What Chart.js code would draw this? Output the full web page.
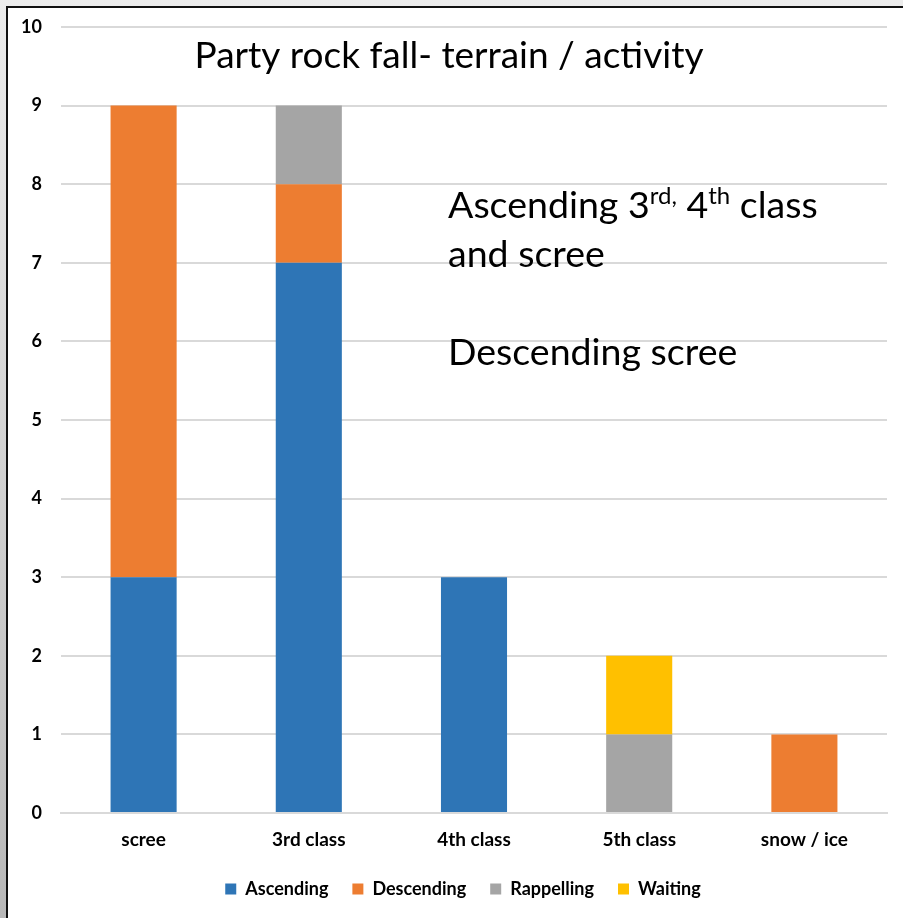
<!DOCTYPE html>
<html>
<head>
<meta charset="utf-8">
<script src="https://cdn.jsdelivr.net/npm/chart.js@4"></script>
<style>
    html, body { margin: 0; padding: 0; }
    body { width: 903px; height: 918px; overflow: hidden; background: linear-gradient(#ececec, #b8b8b8); }
    #frame {
        position: absolute; left: 6px; top: 6px;
        width: 897px; height: 912px; overflow: hidden;
        border-left: 2px solid #111; border-top: 2px solid #111;
        background: #fff;
    }
    #chart { display: block; }
</style>
</head>
<body>
<div id="frame"><canvas id="chart" width="925" height="910"></canvas></div>
<script>
    // data
    var categories = ['scree', '3rd class', '4th class', '5th class', 'snow / ice'];
    var ascending = [3, 7, 3, 0, 0];
    var descending = [6, 1, 0, 0, 1];
    var rappelling = [0, 1, 0, 1, 0];
    var waiting = [0, 0, 0, 1, 0];
    var seriesNames = ['Ascending', 'Descending', 'Rappelling', 'Waiting'];
    var seriesColors = ['#2E75B6', '#ED7D31', '#A5A5A5', '#FFC000'];
    var yTicks = [0, 1, 2, 3, 4, 5, 6, 7, 8, 9, 10];

    var chartTitle = 'Party rock fall- terrain / activity';
    // rich text lines: [text, superscript?]
    var noteLines = [
        [['Ascending 3', false], ['rd,', true], [' 4', false], ['th', true], [' class', false]],
        [['and scree', false]],
        [],
        [['Descending scree', false]]
    ];

    var FONT = 'Lato, "Open Sans", sans-serif';

    // draws the title and the note text inside the plot
    var textPlugin = {
        id: 'textPlugin',
        afterDraw: function(chart) {
            var ctx = chart.ctx;
            ctx.save();
            ctx.fillStyle = '#000';
            ctx.textBaseline = 'alphabetic';

            ctx.font = '37px ' + FONT;
            ctx.textAlign = 'center';
            ctx.fillText(chartTitle, 441, 60);

            ctx.textAlign = 'left';
            var x0 = 440, y = 210, lineH = 49;
            noteLines.forEach(function(line) {
                var x = x0;
                line.forEach(function(seg) {
                    if (seg[1]) {
                        ctx.font = '24px ' + FONT;
                        ctx.fillText(seg[0], x, y - 14);
                    } else {
                        ctx.font = '37.5px ' + FONT;
                        ctx.fillText(seg[0], x, y);
                    }
                    x += ctx.measureText(seg[0]).width;
                });
                y += lineH;
            });
            ctx.restore();
        }
    };

    var seriesData = [ascending, descending, rappelling, waiting];

    new Chart(document.getElementById('chart'), {
        type: 'bar',
        data: {
            labels: categories,
            datasets: seriesNames.map(function(name, i) {
                return {
                    label: name,
                    data: seriesData[i],
                    backgroundColor: seriesColors[i],
                    borderWidth: 0,
                    categoryPercentage: 1,
                    barPercentage: 0.4
                };
            })
        },
        options: {
            responsive: false,
            animation: false,
            layout: { padding: { top: 19, right: 15, bottom: 10, left: 0 } },
            plugins: {
                title: { display: false },
                tooltip: { enabled: false },
                legend: {
                    position: 'bottom',
                    labels: {
                        boxWidth: 11,
                        boxHeight: 11,
                        padding: 24,
                        color: '#000',
                        font: { family: FONT, size: 18, weight: 'bold' }
                    }
                }
            },
            scales: {
                x: {
                    stacked: true,
                    afterFit: function(scale) { scale.height = 43; },
                    grid: { display: false, drawTicks: false },
                    border: { display: true, color: '#d9d9d9', width: 2 },
                    ticks: {
                        padding: 15,
                        color: '#000',
                        font: { family: FONT, size: 19, weight: 'bold' }
                    }
                },
                y: {
                    stacked: true,
                    min: 0,
                    max: 10,
                    afterBuildTicks: function(scale) {
                        scale.ticks = yTicks.map(function(v) { return { value: v }; });
                    },
                    afterFit: function(scale) {
                        scale.width = 53;
                        scale.paddingTop = 0;
                        scale.paddingBottom = 0;
                    },
                    grid: { color: '#d9d9d9', lineWidth: 2, drawTicks: false },
                    border: { display: false },
                    ticks: {
                        padding: 19,
                        color: '#000',
                        font: { family: FONT, size: 18, weight: 'bold' }
                    }
                },
                // empty right-hand axis, only to keep the plot clear of the wider legend box
                spacer: {
                    type: 'linear',
                    position: 'right',
                    display: true,
                    afterFit: function(scale) {
                        scale.width = 31;
                        scale.paddingTop = 0;
                        scale.paddingBottom = 0;
                    },
                    grid: { display: false, drawTicks: false },
                    border: { display: false },
                    ticks: { display: false }
                }
            }
        },
        plugins: [textPlugin]
    });
</script>
</body>
</html>
